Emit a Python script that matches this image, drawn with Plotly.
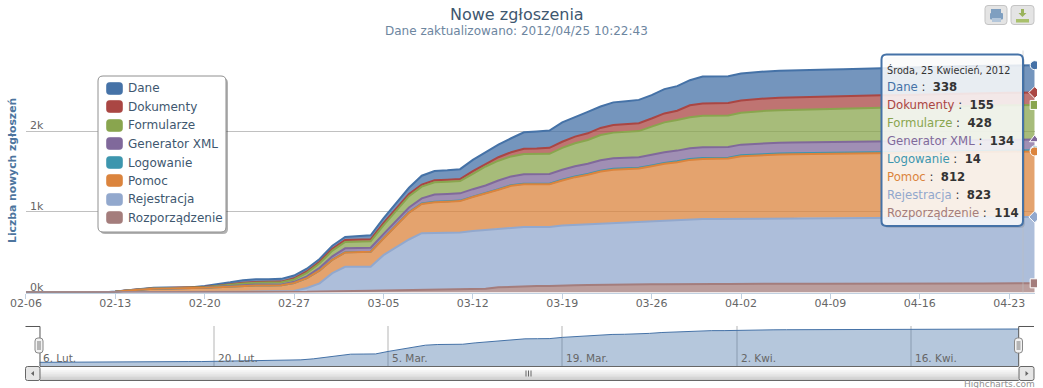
import numpy as np
import pandas as pd
import plotly.graph_objects as go

W, H = 1043, 388

START = "2012-02-06"
SERIES_NAMES = ["Dane", "Dokumenty", "Formularze", "Generator XML", "Logowanie", "Pomoc", "Rejestracja", "Rozporządzenie"]
COLORS = ["#4572A7", "#AA4643", "#89A54E", "#80699B", "#3D96AE", "#DB843D", "#92A8CD", "#A47D7C"]

dane = [0]*7 + [2,3,5,6,6,6,6, 12,18,22,32,34,34,34, 34,34,34,36,38,45,50,
        60,66,78,110,114,117,122, 140,143,156,173,205,212,213, 240,247,266,266,280,286,289,
        290,301,305,311,333,333,333, 333,334,335,335,336,
        336,336,336,336,336,336,337,337,337,337,337,337,337,337,337,338,338,338,338]
dokumenty = [0]*7 + [0,1,2,2,3,3,4, 4,4,6,8,8,9,9, 14,17,20,24,24,24,25,
        26,26,26,26,26,26,26, 32,33,43,52,64,66,75, 76,82,82,87,95,95,98,
        101,111,114,148,153,153,153, 153,153,153,154,154,
        154,154,154,154,154,154,154,154,154,155,155,155,155,155,155,155,155,155,155]
formularze = [0]*7 + [0,1,2,3,3,4,4, 6,10,16,20,24,24,26, 30,44,56,70,79,79,79,
        109,125,140,145,152,152,152, 191,235,245,248,250,250,250, 272,285,295,313,319,320,323,
        349,371,380,385,391,391,391, 395,401,402,404,405,
        406,406,408,410,412,413,414,414,416,418,420,422,423,424,424,425,426,427,428]
generator = [0]*7 + [0,0,1,1,1,1,1, 2,4,6,8,10,10,10, 14,22,32,42,50,50,50,
        52,55,60,64,90,90,90, 92,95,108,108,118,119,120, 123,126,126,130,130,131,131,
        131,131,132,132,132,132,132, 132,132,132,133,133,
        133,133,133,133,133,133,133,133,133,133,133,133,134,134,134,134,134,134,134]
logowanie = [0]*21 + [1,1,1,2,2,2,2, 3,3,4,5,5,5,6, 6,7,7,8,8,8,8, 9,9,10,10,11,11,11,
        11,12,12,12,12,12,12, 12,13,13,13,13,
        13,13,13,13,13,13,13,13,13,13,13,14,14,14,14,14,14,14,14]
pomoc = [0]*7 + [9,24,36,45,46,47,48, 53,60,68,74,76,76,77, 99,122,160,165,177,181,185,
        206,275,333,363,379,385,390, 420,450,482,518,528,528,528, 559,593,614,642,658,662,666,
        686,709,720,737,746,747,748, 771,778,784,787,789,
        790,791,793,795,797,798,800,800,801,803,805,807,808,809,809,810,810,811,812]
rejestracja = [0]*7 + [0,0,1,1,1,1,1, 2,3,4,6,7,7,8, 12,47,101,224,297,297,297,
        439,531,627,700,700,700,703, 721,728,728,733,733,733,733, 741,747,753,762,768,769,769,
        778,785,791,801,804,805,806, 810,812,813,814,815,
        816,816,817,817,818,818,819,819,820,820,820,821,821,821,822,822,822,823,823]
rozporzadzenie = [1]*7 + [1,1,1,2,2,2,2, 3,3,4,4,5,5,5, 6,8,12,16,22,22,22,
        24,27,30,35,40,40,40, 42,47,64,72,80,80,80, 89,90,93,96,96,97,101,
        101,101,104,106,106,106,106, 108,108,109,109,110,
        110,110,111,111,111,112,112,112,112,113,113,113,113,113,113,114,114,114,114]
SERIES = [dane, dokumenty, formularze, generator, logowanie, pomoc, rejestracja, rozporzadzenie]

MAIN_TICKS = ["2012-02-06","2012-02-13","2012-02-20","2012-02-27","2012-03-05","2012-03-12",
              "2012-03-19","2012-03-26","2012-04-02","2012-04-09","2012-04-16","2012-04-23"]
MAIN_LABELS = ["02-06","02-13","02-20","02-27","03-05","03-12","03-19","03-26","04-02","04-09","04-16","04-23"]
NAV_TICKS = ["2012-02-06","2012-02-20","2012-03-05","2012-03-19","2012-04-02","2012-04-16"]
NAV_LABELS = ["6. Lut.","20. Lut.","5. Mar.","19. Mar.","2. Kwi.","16. Kwi."]
Y_TICKS = [0, 1000, 2000]
Y_LABELS = ["0k", "1k", "2k"]

dates = pd.date_range(START, periods=len(dane), freq="D")
FONT = "DejaVu Sans"


def rgba(c, a):
    return f"rgba({int(c[1:3],16)},{int(c[3:5],16)},{int(c[5:7],16)},{a})"

def px(x):
    return x / W

def py(y):
    return 1 - y / H

def rrect(x0, y0, x1, y1, r):
    p = lambda x, y: f"{px(x):.5f},{py(y):.5f}"
    return (f"M{p(x0+r,y0)} L{p(x1-r,y0)} Q{p(x1,y0)} {p(x1,y0+r)} L{p(x1,y1-r)} Q{p(x1,y1)} {p(x1-r,y1)} "
            f"L{p(x0+r,y1)} Q{p(x0,y1)} {p(x0,y1-r)} L{p(x0,y0+r)} Q{p(x0,y0)} {p(x0+r,y0)} Z")

def poly(points):
    return "M" + " L".join(f"{px(x):.5f},{py(y):.5f}" for x, y in points) + " Z"

def shape_path(path, fill="rgba(0,0,0,0)", line="rgba(0,0,0,0)", lw=1, layer="above"):
    return dict(type="path", xref="paper", yref="paper", path=path, fillcolor=fill,
                line=dict(color=line, width=lw), layer=layer)

def text(x, y, s, size=12, color="#333", xanchor="left", yanchor="middle", angle=0, **kw):
    return dict(xref="paper", yref="paper", x=px(x), y=py(y), text=s, showarrow=False,
                xanchor=xanchor, yanchor=yanchor, textangle=angle, borderpad=0, borderwidth=0,
                font=dict(family=FONT, size=size, color=color), **kw)

fig = go.Figure()

# stacked fills, bottom layer first
for name, vals, col in reversed(list(zip(SERIES_NAMES, SERIES, COLORS))):
    fig.add_trace(go.Scatter(x=dates, y=vals, name=name, stackgroup="one", mode="none",
                             fillcolor=rgba(col, 0.75),
                             showlegend=False, hoverinfo="skip", xaxis="x", yaxis="y"))

# outlines, drawn top layer first so lower layers paint over it
stack_tops = np.cumsum(np.array(SERIES[::-1]), axis=0)[::-1]
for col, tops in zip(COLORS, stack_tops):
    fig.add_trace(go.Scatter(x=dates, y=tops.tolist(), mode="lines", line=dict(color=col, width=2),
                             showlegend=False, hoverinfo="skip", xaxis="x", yaxis="y"))

# hover markers on last point
SYMBOLS = ["circle", "diamond", "square", "triangle-up", "circle", "circle", "diamond", "square"]
for i, (col, sym) in enumerate(zip(COLORS, SYMBOLS)):
    fig.add_trace(go.Scatter(x=[dates[-1]], y=[int(stack_tops[i][-1])], mode="markers", cliponaxis=False,
                             marker=dict(symbol=sym, size=9, color=col, line=dict(color="white", width=1)),
                             showlegend=False, hoverinfo="skip", xaxis="x", yaxis="y"))

# navigator
total = [int(v) for v in np.sum(SERIES, axis=0)]
NAV_MIN = -310
nav_x = list(dates) + [dates[-1], dates[0]]
nav_y = total + [NAV_MIN, NAV_MIN]
fig.add_trace(go.Scatter(x=nav_x, y=nav_y, mode="lines", fill="toself", fillcolor=rgba("#4572A7", 0.4),
                         line=dict(width=0), showlegend=False, hoverinfo="skip", xaxis="x2", yaxis="y2"))
fig.add_trace(go.Scatter(x=dates, y=total, mode="lines", line=dict(color="#4572A7", width=1),
                         showlegend=False, hoverinfo="skip", xaxis="x2", yaxis="y2"))

def day_end(d):
    return pd.Timestamp(START) + pd.Timedelta(days=d)

# plot geometry in pixels
MX0, MX1, MY0, MY1 = 25.9, 1034.7, 50.5, 292.5
NX0, NX1, NY0, NY1 = 39.4, 1018.7, 326, 366
NAV_TOP = (362.5 - NY0) / ((362.5 - 329) / 2818)

shapes = []
annots = []

# plot-clip of the hover markers at the right edge
shapes.append(dict(type="rect", xref="paper", yref="paper", x0=px(1037), x1=1, y0=py(296), y1=py(50),
                   fillcolor="white", line=dict(width=0), layer="above"))

# crosshair
shapes.append(dict(type="line", xref="paper", yref="paper", x0=px(1023), x1=px(1023), y0=py(MY0), y1=py(MY1),
                   line=dict(color="rgba(192,192,192,0.6)", width=1), layer="above"))

# navigator outline
shapes.append(shape_path(f"M{px(25.5):.5f},{py(326.5):.5f} L{px(40):.5f},{py(326.5):.5f} L{px(40):.5f},{py(366):.5f}", line="#555", lw=1))
shapes.append(shape_path(f"M{px(1034):.5f},{py(326.5):.5f} L{px(1018.7):.5f},{py(326.5):.5f} L{px(1018.7):.5f},{py(366):.5f}", line="#555", lw=1))

# scrollbar with a gradient made from bands
bands = ["#ffffff", "#fbfbfb", "#f5f5f5", "#eeeeee", "#e6e6e6", "#dedede", "#d6d6d6", "#cfcfcf"]
sb_y0, sb_y1 = 366.5, 380.5
bh = (sb_y1 - sb_y0) / len(bands)
for i, c in enumerate(bands):
    shapes.append(dict(type="rect", xref="paper", yref="paper", x0=px(40), x1=px(1018.7),
                       y0=py(sb_y0 + i*bh), y1=py(sb_y0 + (i+1)*bh + 0.3), fillcolor=c, line=dict(width=0), layer="above"))
shapes.append(shape_path(f"M{px(40):.5f},{py(sb_y0):.5f} L{px(1018.7):.5f},{py(sb_y0):.5f}", line="#666", lw=1))
shapes.append(shape_path(f"M{px(40):.5f},{py(sb_y1):.5f} L{px(1018.7):.5f},{py(sb_y1):.5f}", line="#666", lw=1))
for x0, x1 in [(25.5, 40), (1019, 1034)]:
    shapes.append(shape_path(rrect(x0, sb_y0, x1, sb_y1, 2), fill="#e6e6e6", line="#666", lw=1))
shapes.append(shape_path(poly([(34, 371), (34, 376), (31, 373.5)]), fill="#666"))
shapes.append(shape_path(poly([(1025.5, 371), (1025.5, 376), (1028.5, 373.5)]), fill="#666"))
for gx in (526, 528.5, 531):
    shapes.append(dict(type="line", xref="paper", yref="paper", x0=px(gx), x1=px(gx), y0=py(370.5), y1=py(376.5),
                       line=dict(color="#666", width=1), layer="above"))

# navigator handles
for cx in (39, 1018.5):
    shapes.append(shape_path(rrect(cx-4, 338, cx+4, 353, 3), fill="#f2f2f2", line="#888", lw=1))
    shapes.append(dict(type="rect", xref="paper", yref="paper", x0=px(cx-2), x1=px(cx+2), y0=py(341), y1=py(350),
                       fillcolor="#b5b5b5", line=dict(width=0), layer="above"))

# navigator labels
for t, lab in zip(NAV_TICKS, NAV_LABELS):
    annots.append(dict(xref="x2", yref="paper", x=t, y=py(358), text=lab, showarrow=False, xanchor="left",
                       yanchor="middle", xshift=2, font=dict(family=FONT, size=10.5, color="#666")))

# axis labels
for v, lab in zip(Y_TICKS, Y_LABELS):
    annots.append(dict(xref="paper", yref="y", x=px(27.5), y=v, text=lab, showarrow=False, xanchor="left",
                       yanchor="bottom", yshift=-3, font=dict(family=FONT, size=11, color="#666")))
annots.append(text(12.5, 170.5, "<b>Liczba nowych zgłoszeń</b>", size=10.8, color="#4d759e", xanchor="center", angle=-90))

# title
annots.append(text(516.5, 14.5, "Nowe zgłoszenia", size=16, color="#3E576F", xanchor="center"))
annots.append(text(516, 31, "Dane zaktualizowano: 2012/04/25 10:22:43", size=12, color="#6D869F", xanchor="center"))
annots.append(text(1034.5, 383.5, "Highcharts.com", size=9, color="#909090", xanchor="right"))

# legend box
shapes.append(shape_path(rrect(100, 78, 228, 234, 5), fill="rgba(0,0,0,0.30)"))
shapes.append(shape_path(rrect(98, 76, 226, 232, 5), fill="#ffffff", line="#909090", lw=1))
LEG_Y = [88.5, 106.5, 125.5, 143.5, 162.5, 180.5, 199.5, 217.5]
for name, col, ly in zip(SERIES_NAMES, COLORS, LEG_Y):
    shapes.append(shape_path(rrect(106.5, ly-6, 122.5, ly+6, 3), fill=col, line=rgba(col, 0.6), lw=1))
    annots.append(text(128, ly, name, size=12, color="#3E576F"))

# tooltip
shapes.append(shape_path(rrect(884, 57, 1025, 228, 5), fill="rgba(0,0,0,0.10)"))
shapes.append(shape_path(rrect(881.5, 54.5, 1023, 226, 5), fill="rgba(255,255,255,0.85)", line="#4572A7", lw=2))
annots.append(text(886.5, 69.5, "Środa, 25 Kwiecień, 2012", size=9.7, color="#333"))
TIP_Y = [87, 105, 123, 141, 159, 177, 195, 213]
for name, col, vals, ty in zip(SERIES_NAMES, COLORS, SERIES, TIP_Y):
    annots.append(text(886.5, ty, f'<span style="color:{col}">{name}</span>'
                       f'<span style="color:#333"> :\u00a0\u00a0<b>{vals[-1]}</b></span>', size=11.7, color="#333"))

# export buttons
for x0, x1 in [(985, 1007), (1011, 1034)]:
    shapes.append(shape_path(rrect(x0, 5.5, x1, 24.5, 3), fill="#e4e4e4", line="#c4c4c4", lw=1))
# printer icon
shapes.append(shape_path(poly([(991, 9), (1001, 9), (1001, 13), (991, 13)]), fill="#7f9fc0"))
shapes.append(shape_path(rrect(990, 13, 1003, 19.5, 1), fill="#7f9fc0"))
shapes.append(shape_path(poly([(992, 18), (1001, 18), (1001, 22), (992, 22)]), fill="#b3c6da"))
# download icon
shapes.append(shape_path(poly([(1021, 9), (1024, 9), (1024, 13), (1026.5, 13), (1022.5, 17), (1018.5, 13), (1021, 13)]), fill="#9ab35c"))
shapes.append(shape_path(poly([(1016, 19), (1029, 19), (1029, 22.5), (1016, 22.5)]), fill="#a9c06b"))

fig.update_layout(
    width=W, height=H, autosize=False, margin=dict(l=0, r=0, t=0, b=0, autoexpand=False),
    paper_bgcolor="white", plot_bgcolor="white", showlegend=False, hovermode=False,
    font=dict(family=FONT, size=12, color="#666"),
    shapes=shapes, annotations=annots,
    xaxis=dict(domain=[px(MX0), px(MX1)], range=[START, day_end(79)], type="date", anchor="y",
               tickmode="array", tickvals=MAIN_TICKS, ticktext=MAIN_LABELS, ticks="outside", ticklen=5,
               ticklabelstandoff=-5,
               tickcolor="#C0D0E0", tickwidth=1, showgrid=False, zeroline=False, showline=True,
               linecolor="#C0D0E0", tickfont=dict(family=FONT, size=11, color="#666")),
    yaxis=dict(domain=[py(MY1), py(MY0)], range=[0, 3000], anchor="x", tickmode="array",
               tickvals=[0, 1000, 2000, 3000], showticklabels=False, showgrid=True,
               gridcolor="#C0C0C0", gridwidth=1, zeroline=False, showline=False),
    xaxis2=dict(domain=[px(NX0), px(NX1)], range=[START, day_end(78.66)], type="date", anchor="y2",
                tickmode="array", tickvals=NAV_TICKS, showticklabels=False, ticks="", showgrid=True,
                gridcolor="rgba(150,150,150,0.35)", gridwidth=2, zeroline=False, showline=False),
    yaxis2=dict(domain=[py(NY1), py(NY0)], range=[NAV_MIN, NAV_TOP], anchor="x2", showticklabels=False,
                showgrid=False, zeroline=False, showline=False, ticks=""),
)

fig.write_html("out.html", config={"displayModeBar": False},
               post_script="document.body.style.margin='0';document.body.style.overflow='hidden';")
